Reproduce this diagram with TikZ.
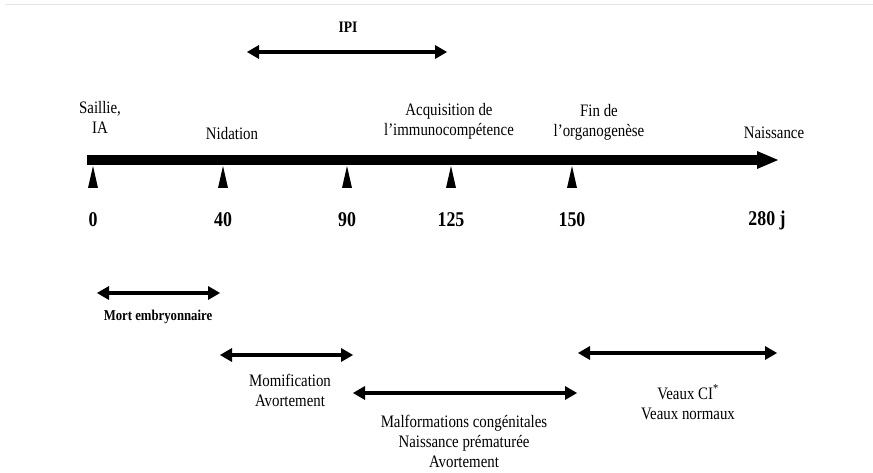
\documentclass[tikz,border=0pt]{standalone}
\usepackage{fontspec}
\setmainfont{Liberation Serif}[FakeStretch=0.85]
\usetikzlibrary{arrows.meta}

\begin{document}
\begin{tikzpicture}[x=1pt,y=-1pt,
  lbl/.style={align=center,inner sep=0pt,font=\fontsize{17.5}{20}\selectfont},
  num/.style={inner sep=0pt,font=\fontsize{21}{24}\selectfont\bfseries},
  period/.style={line width=4pt,
    {Triangle[length=12pt,width=14pt,line width=0pt]}-{Triangle[length=12pt,width=14pt,line width=0pt]}}]
  \useasboundingbox (0,0) rectangle (873,473);
  \draw[black!10,line width=1pt] (5,5) -- (873,5);

  % time axis
  \coordinate (axeA) at (87,160);
  \coordinate (axeB) at (778,160);
  \draw[line width=10pt,-{Triangle[length=21pt,width=18pt,line width=0pt]}] (axeA) -- (axeB);
  \foreach \x/\d in {93/0,223/40,347/90,451/125,572/150}{
    \fill (\x,166) -- (\x+5,188) -- (\x-5,188) -- cycle;
    \node[num] (j\d) at (\x,220) {\d};
  }
  \node[num] (j280) at (767,220) {280 j};

  \node[lbl] (saillie) at (100,117) {Saillie,\\IA};
  \node[lbl] (nidation) at (232,134) {Nidation};
  \node[lbl] (acquis) at (449,121) {Acquisition de\\l'immunocompétence};
  \node[lbl] (organo) at (599,122) {Fin de\\l'organogenèse};
  \node[lbl] (naiss) at (774,133) {Naissance};

  % IPI
  \node[inner sep=0pt,font=\fontsize{16}{18}\selectfont\bfseries] (ipi) at (348,27) {IPI};
  \coordinate (ipiA) at (247,52);
  \coordinate (ipiB) at (447,52);
  \draw[period] (ipiA) -- (ipiB);

  % periodes a risque
  \coordinate (mortA) at (97,293);
  \coordinate (mortB) at (220,293);
  \draw[period] (mortA) -- (mortB);
  \node[inner sep=0pt,font=\fontsize{15}{18}\selectfont\bfseries] (mort) at (158,317) {Mort embryonnaire};

  \coordinate (momA) at (220,355);
  \coordinate (momB) at (353,355);
  \draw[period] (momA) -- (momB);
  \node[lbl] (momif) at (290,390) {Momification\\Avortement};

  \coordinate (malA) at (353,393);
  \coordinate (malB) at (577,393);
  \draw[period] (malA) -- (malB);
  \node[lbl] (malf) at (464,441) {Malformations congénitales\\Naissance prématurée\\Avortement};

  \coordinate (veauA) at (578,353);
  \coordinate (veauB) at (777,353);
  \draw[period] (veauA) -- (veauB);
  \node[lbl] (veaux) at (688,402) {Veaux CI\textsuperscript{*}\\Veaux normaux};
\end{tikzpicture}
\end{document}
